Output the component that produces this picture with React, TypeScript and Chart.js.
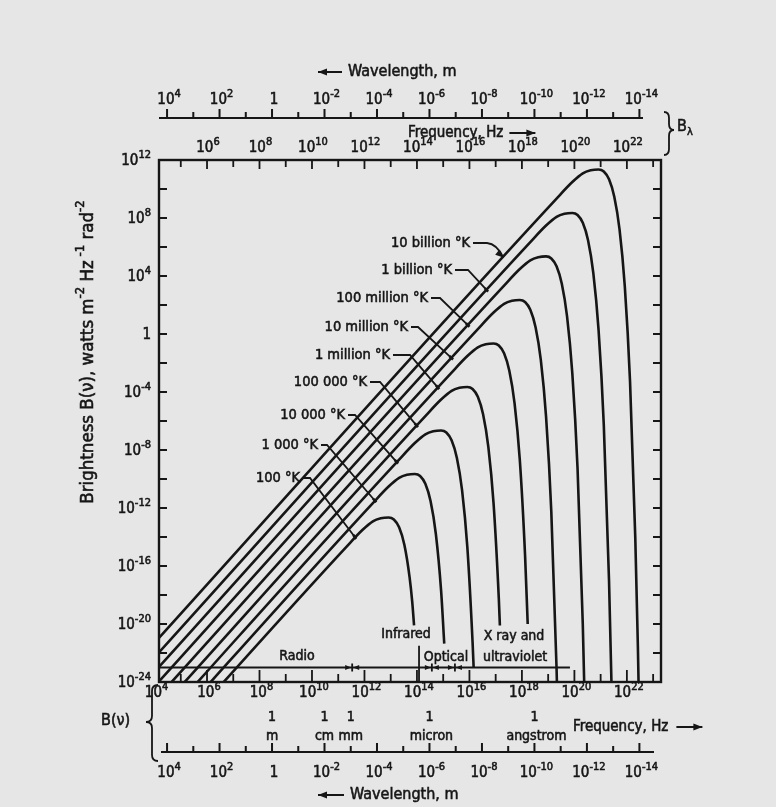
import React, { useEffect, useRef } from 'react';
import { Chart, registerables } from 'chart.js';

Chart.register(...registerables);

// ---------------- data (powers of ten) ----------------
const temperatureLabels = [
  '100 °K', '1 000 °K', '10 000 °K', '100 000 °K', '1 million °K',
  '10 million °K', '100 million °K', '1 billion °K', '10 billion °K',
];

// log10 frequency (Hz) / log10 brightness for each black-body curve
const freq100K = [4.0, 11.32, 11.92, 12.32, 12.62, 12.92, 13.12, 13.32, 13.52, 13.72, 13.82, 13.89];
const bright100K = [-29.3, -14.66, -13.52, -12.92, -12.71, -12.65, -12.79, -13.33, -14.53, -16.78, -18.48, -20.1];

const freq1e3K = [4.0, 12.32, 12.92, 13.32, 13.62, 13.92, 14.12, 14.32, 14.52, 14.72, 14.92, 15.04];
const bright1e3K = [-28.3, -11.66, -10.52, -9.92, -9.71, -9.65, -9.79, -10.33, -11.53, -13.78, -17.7, -21.35];

const freq1e4K = [4.0, 13.32, 13.92, 14.32, 14.62, 14.92, 15.12, 15.32, 15.52, 15.72, 15.92, 16.12, 16.16];
const bright1e4K = [-27.3, -8.66, -7.52, -6.92, -6.71, -6.65, -6.79, -7.33, -8.53, -10.78, -14.7, -21.27, -23.0];

const freq1e5K = [4.0, 14.32, 14.92, 15.32, 15.62, 15.92, 16.12, 16.32, 16.52, 16.72, 16.92, 17.12, 17.16];
const bright1e5K = [-26.3, -5.66, -4.52, -3.92, -3.71, -3.65, -3.79, -4.33, -5.53, -7.78, -11.7, -18.27, -20.1];

const freq1e6K = [4.0, 15.32, 15.92, 16.32, 16.62, 16.92, 17.12, 17.32, 17.52, 17.72, 17.92, 18.12, 18.22];
const bright1e6K = [-25.3, -2.66, -1.52, -0.92, -0.71, -0.65, -0.79, -1.33, -2.53, -4.78, -8.7, -15.27, -20.0];

const freq1e7K = [4.0, 16.32, 16.92, 17.32, 17.62, 17.92, 18.12, 18.32, 18.52, 18.72, 18.92, 19.12, 19.32, 19.42];
const bright1e7K = [-24.3, 0.34, 1.48, 2.08, 2.29, 2.35, 2.21, 1.67, 0.47, -1.78, -5.7, -12.27, -23.05, -30.65];

const freq1e8K = [4.0, 17.32, 17.92, 18.32, 18.62, 18.92, 19.12, 19.32, 19.52, 19.72, 19.92, 20.12, 20.32, 20.42];
const bright1e8K = [-23.3, 3.34, 4.48, 5.08, 5.29, 5.35, 5.21, 4.67, 3.47, 1.22, -2.7, -9.27, -20.05, -27.65];

const freq1e9K = [4.0, 18.32, 18.92, 19.32, 19.62, 19.92, 20.12, 20.32, 20.52, 20.72, 20.92, 21.12, 21.32, 21.42, 21.52];
const bright1e9K = [-22.3, 6.34, 7.48, 8.08, 8.29, 8.35, 8.21, 7.67, 6.47, 4.22, 0.3, -6.27, -17.05, -24.65, -34.42];

const freq1e10K = [4.0, 19.32, 19.92, 20.32, 20.62, 20.92, 21.12, 21.32, 21.52, 21.72, 21.92, 22.12, 22.32, 22.42, 22.52];
const bright1e10K = [-21.3, 9.34, 10.48, 11.08, 11.29, 11.35, 11.21, 10.67, 9.47, 7.22, 3.3, -3.27, -14.05, -21.65, -31.42];

// points where the label leaders touch each curve (log10 Hz, log10 B)
const leaderFreqExp = [11.64, 12.4, 13.23, 13.99, 14.8, 15.32, 15.95, 16.66, 17.29];
const leaderBrightExp = [-14.02, -11.5, -8.84, -6.32, -3.7, -1.66, 0.6, 3.02, 5.28];

// axis ticks (powers of ten)
const yLabelExps = [12, 8, 4, 0, -4, -8, -12, -16, -20, -24];
const freqLabelExps = [4, 6, 8, 10, 12, 14, 16, 18, 20, 22];
const wavelengthLabelExps = [4, 2, 0, -2, -4, -6, -8, -10, -12, -14];
const unitWavelengths = [1, 1e-2, 1e-3, 1e-6, 1e-10];
const unitNames = ['m', 'cm', 'mm', 'micron', 'angstrom'];

// spectral bands
const bandLevel = 1e-23;
const bandEndFreq = 10 ** 19.83;
const bandMarkerFreqs = [3.4e11, 3.7e14, 2.8e15];
const irOpticalFreq = 1.2e14;
const irOpticalTop = 10 ** -21.5;

// ---------------- drawing helpers ----------------
const C_LIGHT = 3e8;
const FONT = '"DejaVu Sans Condensed", "Liberation Sans Narrow", "DejaVu Sans", sans-serif';
const INK = '#161616';
const BG = '#e6e6e6';
const font = (s: number) => `${s}px ${FONT}`;

function ink(ctx: CanvasRenderingContext2D, s: string, x: number, y: number) {
  ctx.fillText(s, x, y);
  const lw = ctx.lineWidth;
  ctx.lineWidth = 0.55;
  ctx.strokeText(s, x, y);
  ctx.lineWidth = lw;
}

function powLabel(ctx: CanvasRenderingContext2D, exp: number, x: number, y: number, size: number, align: 'center' | 'right') {
  ctx.textBaseline = 'middle';
  ctx.textAlign = 'left';
  ctx.font = font(size);
  if (exp === 0) {
    const w = ctx.measureText('1').width;
    ink(ctx, '1', align === 'center' ? x - w / 2 : x - w, y);
    return;
  }
  const wb = ctx.measureText('10').width;
  const ss = Math.round(size * 0.7);
  ctx.font = font(ss);
  const sup = String(exp);
  const ws = ctx.measureText(sup).width;
  const tot = wb + ws;
  const x0 = align === 'center' ? x - tot / 2 : x - tot;
  ctx.font = font(size);
  ink(ctx, '10', x0, y);
  ctx.font = font(ss);
  ink(ctx, sup, x0 + wb, y - size * 0.42);
}

type Seg = { t: string; sup?: boolean; sub?: boolean };
function richText(ctx: CanvasRenderingContext2D, segs: Seg[], x: number, y: number, size: number, align: 'left' | 'center') {
  ctx.textBaseline = 'middle';
  ctx.textAlign = 'left';
  const ss = Math.round(size * 0.7);
  let total = 0;
  for (const s of segs) {
    ctx.font = font(s.sup || s.sub ? ss : size);
    total += ctx.measureText(s.t).width;
  }
  let cx = align === 'center' ? x - total / 2 : x;
  for (const s of segs) {
    ctx.font = font(s.sup || s.sub ? ss : size);
    const dy = s.sup ? -size * 0.42 : s.sub ? size * 0.3 : 0;
    ink(ctx, s.t, cx, y + dy);
    cx += ctx.measureText(s.t).width;
  }
  return total;
}

function arrowHead(ctx: CanvasRenderingContext2D, x: number, y: number, ang: number, len = 8, half = 3.2) {
  ctx.beginPath();
  ctx.moveTo(x, y);
  ctx.lineTo(x - len * Math.cos(ang) + half * Math.sin(ang), y - len * Math.sin(ang) - half * Math.cos(ang));
  ctx.lineTo(x - len * Math.cos(ang) - half * Math.sin(ang), y - len * Math.sin(ang) + half * Math.cos(ang));
  ctx.closePath();
  ctx.fill();
}

function hArrow(ctx: CanvasRenderingContext2D, x1: number, x2: number, y: number) {
  ctx.beginPath();
  ctx.moveTo(x1, y);
  ctx.lineTo(x2, y);
  ctx.stroke();
  arrowHead(ctx, x2, y, x2 > x1 ? 0 : Math.PI, 9, 3.5);
}

function brace(ctx: CanvasRenderingContext2D, x: number, y0: number, y1: number, tipY: number, w: number) {
  const m = x - w / 2;
  const t = x - w;
  const r = 6;
  ctx.beginPath();
  ctx.moveTo(x, y0);
  ctx.quadraticCurveTo(m, y0, m, y0 + r);
  ctx.lineTo(m, tipY - r);
  ctx.quadraticCurveTo(m, tipY, t, tipY);
  ctx.quadraticCurveTo(m, tipY, m, tipY + r);
  ctx.lineTo(m, y1 - r);
  ctx.quadraticCurveTo(m, y1, x, y1);
  ctx.stroke();
}

// label text placement (pixels): right end of text, middle y, elbow x
const labelPlacement = [
  { tx: 300, ty: 478, ex: 310 },
  { tx: 318, ty: 445, ex: 327 },
  { tx: 345, ty: 415, ex: 355 },
  { tx: 367, ty: 382, ex: 380 },
  { tx: 390, ty: 355, ex: 410 },
  { tx: 408, ty: 327, ex: 418 },
  { tx: 428, ty: 298, ex: 440 },
  { tx: 452, ty: 270, ex: 468 },
  { tx: 470, ty: 243, ex: 487 },
];

const decorPlugin = {
  id: 'decor',
  beforeDraw(chart: any) {
    const ctx = chart.ctx as CanvasRenderingContext2D;
    ctx.save();
    ctx.fillStyle = BG;
    ctx.fillRect(0, 0, chart.width, chart.height);
    ctx.restore();
  },
  afterDatasetsDraw(chart: any) {
    const ctx = chart.ctx as CanvasRenderingContext2D;
    const xs = chart.scales.x;
    const ys = chart.scales.y;
    const { left, right, top, bottom } = chart.chartArea;
    const X = (v: number) => xs.getPixelForValue(v);
    const Y = (v: number) => ys.getPixelForValue(v);
    ctx.save();
    ctx.strokeStyle = INK;
    ctx.fillStyle = INK;
    ctx.lineCap = 'butt';

    // frame
    ctx.lineWidth = 2.4;
    ctx.strokeRect(left, top, right - left, bottom - top);

    // ticks on the frame
    ctx.lineWidth = 1.8;
    ctx.beginPath();
    for (let e = -22; e <= 10; e += 2) {
      const y = Y(10 ** e);
      ctx.moveTo(left, y); ctx.lineTo(left + 8, y);
      ctx.moveTo(right, y); ctx.lineTo(right - 8, y);
    }
    for (let e = 5; e <= 23; e++) {
      const x = X(10 ** e);
      if (x <= left + 2 || x >= right - 2) continue;
      const long = e % 2 === 0;
      ctx.moveTo(x, top); ctx.lineTo(x, top + (long ? 9 : 7));
      ctx.moveTo(x, bottom); ctx.lineTo(x, bottom - (long ? 12 : 8));
    }
    ctx.stroke();

    // y labels
    for (const e of yLabelExps) powLabel(ctx, e, 151, Y(10 ** e) + 1, 15, 'right');

    // y title
    ctx.save();
    ctx.translate(88, 352);
    ctx.rotate(-Math.PI / 2);
    richText(ctx, [
      { t: 'Brightness B(ν), watts m' }, { t: '-2', sup: true },
      { t: ' Hz' }, { t: ' -1', sup: true }, { t: ' rad' }, { t: '-2', sup: true },
    ], 0, 0, 18.5, 'center');
    ctx.restore();

    // bottom frequency labels
    for (const e of freqLabelExps) powLabel(ctx, e, X(10 ** e) + 2, 693, 15, 'center');
    // top frequency labels
    for (const e of freqLabelExps) if (e > 4) powLabel(ctx, e, X(10 ** e) + 1, 148, 15, 'center');

    // wavelength axes (top and bottom)
    const wlAxis = (yLine: number, yLab: number, x0: number, x1: number) => {
      ctx.lineWidth = 2;
      ctx.beginPath();
      ctx.moveTo(x0, yLine); ctx.lineTo(x1, yLine);
      for (let e = 4; e >= -14; e--) {
        const x = X(C_LIGHT / 10 ** e);
        const long = e % 2 === 0;
        ctx.moveTo(x, yLine); ctx.lineTo(x, yLine - (long ? 9 : 6));
      }
      ctx.stroke();
      for (const e of wavelengthLabelExps) powLabel(ctx, e, X(C_LIGHT / 10 ** e) + 2, yLab, 15, 'center');
    };
    wlAxis(118, 100, left, 643);
    wlAxis(752, 773, left + 2, 654);

    // titles for the wavelength / frequency axes
    ctx.lineWidth = 2;
    hArrow(ctx, 342, 318, 72);
    richText(ctx, [{ t: 'Wavelength, m' }], 348, 72, 16, 'left');
    hArrow(ctx, 344, 318, 795);
    richText(ctx, [{ t: 'Wavelength, m' }], 350, 795, 16, 'left');
    const wTop = richText(ctx, [{ t: 'Frequency, Hz' }], 408, 133, 15, 'left');
    hArrow(ctx, 408 + wTop + 6, 408 + wTop + 32, 133);
    const wBot = richText(ctx, [{ t: 'Frequency, Hz' }], 573, 727, 15, 'left');
    hArrow(ctx, 573 + wBot + 8, 573 + wBot + 34, 727);

    // braces and B labels
    ctx.lineWidth = 1.8;
    brace(ctx, 158, 685, 761, 722, 12);
    brace(ctx, 664, 112, 155, 130, -10);
    richText(ctx, [{ t: 'B(ν)' }], 101, 721, 16, 'left');
    richText(ctx, [{ t: 'B' }, { t: 'λ', sub: true }], 677, 127, 16, 'left');

    // unit wavelengths under the frequency axis
    ctx.textBaseline = 'middle';
    unitWavelengths.forEach((lam, i) => {
      const x = X(C_LIGHT / lam);
      ctx.font = font(14);
      ctx.textAlign = 'center';
      ink(ctx, '1', x, 717);
      ink(ctx, unitNames[i], x + (unitNames[i].length > 2 ? 2 : 0), 736);
    });

    // spectral band annotations
    ctx.lineWidth = 1.8;
    const yb = Y(bandLevel);
    ctx.beginPath();
    ctx.moveTo(left, yb); ctx.lineTo(X(bandEndFreq), yb);
    ctx.moveTo(X(irOpticalFreq), Y(irOpticalTop)); ctx.lineTo(X(irOpticalFreq), bottom);
    ctx.stroke();
    for (const f of bandMarkerFreqs) {
      const x = X(f);
      ctx.beginPath();
      ctx.moveTo(x, yb - 4); ctx.lineTo(x, yb + 4);
      ctx.stroke();
      arrowHead(ctx, x - 1, yb, 0, 6, 2.6);
      arrowHead(ctx, x + 1, yb, Math.PI, 6, 2.6);
    }
    ctx.textAlign = 'center';
    ctx.textBaseline = 'middle';
    ctx.font = font(14);
    ink(ctx, 'Radio', 297, 656);
    ink(ctx, 'Infrared', 406, 634);
    ink(ctx, 'Optical', 446, 657);
    ink(ctx, 'X ray and', 514, 636);
    ink(ctx, 'ultraviolet', 515, 657);

    // temperature labels with leaders
    ctx.lineWidth = 1.8;
    temperatureLabels.forEach((txt, i) => {
      const p = labelPlacement[i];
      const ax = X(10 ** leaderFreqExp[i]);
      const ay = Y(10 ** leaderBrightExp[i]);
      ctx.font = font(14.5);
      ctx.textAlign = 'right';
      ctx.textBaseline = 'middle';
      ink(ctx, txt, p.tx, p.ty);
      ctx.lineWidth = 1.8;
      ctx.beginPath();
      ctx.moveTo(p.tx + 3, p.ty);
      ctx.lineTo(p.ex, p.ty);
      if (i === temperatureLabels.length - 1) {
        ctx.quadraticCurveTo(p.ex + 10, p.ty + 1, ax, ay);
        ctx.stroke();
        arrowHead(ctx, ax, ay, Math.atan2(ay - p.ty - 6, ax - p.ex - 6), 8, 3);
      } else {
        ctx.lineTo(ax, ay);
        ctx.stroke();
        const ang = Math.atan2(ay - p.ty, ax - p.ex);
        ctx.lineWidth = 2.6;
        ctx.beginPath();
        ctx.moveTo(ax - 3 * Math.cos(ang), ay - 3 * Math.sin(ang));
        ctx.lineTo(ax + 2 * Math.cos(ang), ay + 2 * Math.sin(ang));
        ctx.stroke();
        ctx.lineWidth = 1.8;
      }
    });

    ctx.restore();
  },
};

const curves = [
  { f: freq100K, b: bright100K },
  { f: freq1e3K, b: bright1e3K },
  { f: freq1e4K, b: bright1e4K },
  { f: freq1e5K, b: bright1e5K },
  { f: freq1e6K, b: bright1e6K },
  { f: freq1e7K, b: bright1e7K },
  { f: freq1e8K, b: bright1e8K },
  { f: freq1e9K, b: bright1e9K },
  { f: freq1e10K, b: bright1e10K },
];

export default function App() {
  const ref = useRef<HTMLCanvasElement | null>(null);
  useEffect(() => {
    if (!ref.current) return;
    const chart = new Chart(ref.current, {
      type: 'line',
      data: {
        datasets: curves.map((c, i) => ({
          label: temperatureLabels[i],
          data: c.f.map((e, j) => ({ x: 10 ** e, y: 10 ** c.b[j] })),
          borderColor: INK,
          borderWidth: 2.6,
          pointRadius: 0,
          fill: false,
          cubicInterpolationMode: 'monotone' as const,
        })),
      },
      options: {
        responsive: false,
        animation: false,
        devicePixelRatio: 1,
        layout: { padding: { left: 159, top: 160, right: 115, bottom: 125 } },
        plugins: { legend: { display: false }, tooltip: { enabled: false } },
        scales: {
          x: { type: 'logarithmic', min: 10 ** 4.17, max: 10 ** 23.3, display: false },
          y: { type: 'logarithmic', min: 1e-24, max: 1e12, display: false },
        },
      },
      plugins: [decorPlugin],
    });
    return () => chart.destroy();
  }, []);
  return (
    <div style={{ position: 'fixed', left: 0, top: 0, width: 776, height: 807 }}>
      <canvas ref={ref} width={776} height={807} style={{ display: 'block' }} />
    </div>
  );
}
